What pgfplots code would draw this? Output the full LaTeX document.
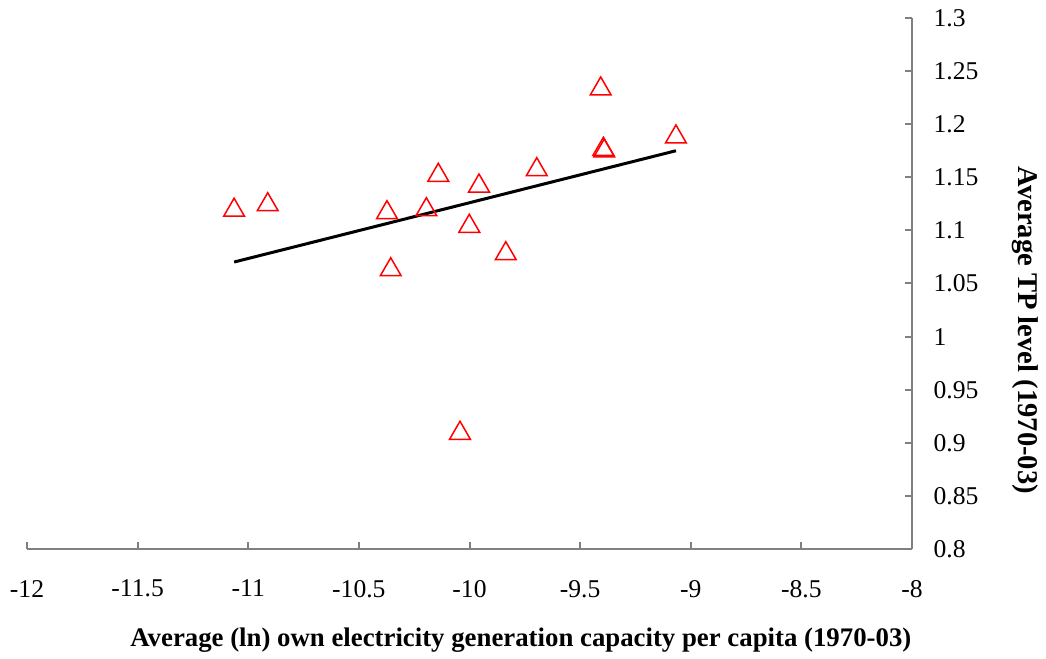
\documentclass[border=0pt]{standalone}
\usepackage{fontspec}
\setmainfont{Liberation Serif}
\usepackage{pgfplots}
\pgfplotsset{compat=1.18}
\begin{document}
\begin{tikzpicture}
\begin{axis}[name=ax, scale only axis, width=442.5pt, height=265.5pt,
  xmin=-12, xmax=-8, ymin=0.8, ymax=1.3,
  axis x line*=bottom, axis y line*=right,
  xtick={-12,-11.5,-11,-10.5,-10,-9.5,-9,-8.5,-8},
  xticklabels={-12,-11.5,-11,-10.5,-10,-9.5,-9,-8.5,-8},
  ytick={0.8,0.85,0.9,0.95,1,1.05,1.1,1.15,1.2,1.25,1.3},
  yticklabels={0.8,0.85,0.9,0.95,1,1.05,1.1,1.15,1.2,1.25,1.3},
  tick align=inside, major tick length=3.5pt,
  tick style={draw=gray, line width=1pt},
  axis line style={draw=gray, line width=1pt},
  ticklabel style={font=\fontsize{12.8}{14}\selectfont},
  xticklabel style={yshift=-12pt},
  yticklabel style={anchor=west, xshift=7.3pt},
  clip=false,
]
\addplot[black, line width=1.5pt] coordinates {(-11.064,1.0702) (-9.067,1.175)};
\addplot[only marks, red, mark=triangle, mark size=6pt, mark options={line width=0.75pt, yshift=-1.5pt}] coordinates {
(-11.064,1.1218)
(-10.912,1.127)
(-10.373,1.1195)
(-10.195,1.1223)
(-10.141,1.1547)
(-10.356,1.0658)
(-10.001,1.1067)
(-9.957,1.1446)
(-9.836,1.0809)
(-9.696,1.160)
(-9.407,1.236)
(-9.395,1.1792)
(-9.391,1.1776)
(-9.067,1.1908)
(-10.043,0.9118)
};
\node[font=\bfseries\fontsize{14.3}{16}\selectfont, rotate=-90] at ([xshift=56.5pt]rel axis cs:1,0.412) {Average TP level (1970-03)};
\node[font=\bfseries\fontsize{13.4}{15}\selectfont] at ([yshift=-45.5pt]rel axis cs:0.558,0) {Average (ln) own electricity generation capacity per capita (1970-03)};
\end{axis}
\pgfresetboundingbox
\path[use as bounding box] ([xshift=-13.5pt,yshift=-55pt]ax.south west) rectangle ([xshift=67pt,yshift=9pt]ax.north east);
\end{tikzpicture}
\end{document}
